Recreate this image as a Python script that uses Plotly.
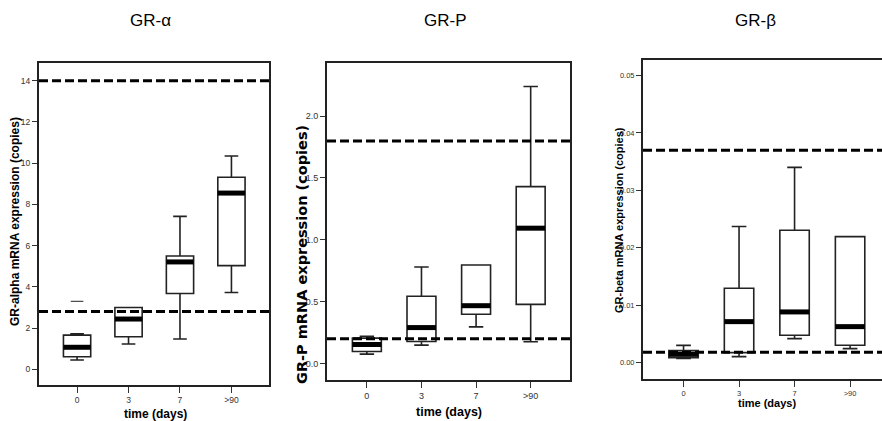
import plotly.graph_objects as go

W, H = 882, 421

days = ["0", "3", "7", ">90"]

# GR-alpha
alpha_low = [0.45, 1.23, 1.47, 3.73]
alpha_q1 = [0.61, 1.58, 3.68, 5.03]
alpha_med = [1.07, 2.44, 5.21, 8.55]
alpha_q3 = [1.66, 3.0, 5.5, 9.32]
alpha_high = [1.72, 3.0, 7.42, 10.35]
alpha_outlier = [3.3]
alpha_refs = [14.0, 2.8]

# GR-P
p_low = [0.075, 0.148, 0.296, 0.175]
p_q1 = [0.096, 0.178, 0.398, 0.478]
p_med = [0.153, 0.29, 0.467, 1.094]
p_q3 = [0.205, 0.543, 0.796, 1.43]
p_high = [0.22, 0.78, 0.796, 2.24]
p_refs = [1.8, 0.2]

# GR-beta
b_low = [0.00075, 0.00105, 0.00418, 0.00244]
b_q1 = [0.00087, 0.00174, 0.00476, 0.00302]
b_med = [0.00145, 0.00714, 0.00883, 0.00627]
b_q3 = [0.00209, 0.01295, 0.02305, 0.02195]
b_high = [0.0030, 0.0237, 0.0340, 0.02195]
b_refs = [0.037, 0.0018]

panels = [
    dict(low=alpha_low, q1=alpha_q1, med=alpha_med, q3=alpha_q3, high=alpha_high,
         refs=alpha_refs, xdom=[39, 269], ydom=[63, 385], xr=[-0.74, 3.73],
         yr=[-0.76, 14.86], dtick=2, tickfmt="d", tsize=8.5),
    dict(low=p_low, q1=p_q1, med=p_med, q3=p_q3, high=p_high,
         refs=p_refs, xdom=[327, 570], ydom=[63, 380], xr=[-0.73, 3.72],
         yr=[-0.134, 2.43], dtick=0.5, tickfmt=".1f", tsize=9),
    dict(low=b_low, q1=b_q1, med=b_med, q3=b_q3, high=b_high,
         refs=b_refs, xdom=[643, 882], ydom=[60, 379], xr=[-0.73, 3.575],
         yr=[-0.00285, 0.0527], dtick=0.01, tickfmt=".2f", tsize=7.5),
]

narrow = "Liberation Sans Narrow, Arial Narrow, Liberation Sans, Arial"
xpos = list(range(len(days)))
box_w = 0.53

fig = go.Figure()
layout = dict(
    width=W, height=H, margin=dict(l=0, r=0, t=0, b=0),
    plot_bgcolor="white", paper_bgcolor="white", showlegend=False,
    shapes=[], annotations=[],
)

for i, p in enumerate(panels):
    n = "" if i == 0 else str(i + 1)
    xa, ya = "x" + n, "y" + n
    fig.add_trace(go.Box(
        x=xpos, q1=p["q1"], median=p["med"], q3=p["q3"],
        lowerfence=p["low"], upperfence=p["high"],
        width=box_w, whiskerwidth=0.5, fillcolor="white",
        line=dict(color="#222", width=1.6), boxpoints=False,
        xaxis=xa, yaxis=ya, hoverinfo="skip",
    ))
    # thick median bars on top of the boxes
    mx, my = [], []
    for k, m in enumerate(p["med"]):
        mx += [xpos[k] - box_w / 2, xpos[k] + box_w / 2, None]
        my += [m, m, None]
    fig.add_trace(go.Scatter(x=mx, y=my, mode="lines",
                             line=dict(color="black", width=5),
                             xaxis=xa, yaxis=ya, hoverinfo="skip"))
    if i == 0:
        fig.add_trace(go.Scatter(x=[0] * len(alpha_outlier), y=alpha_outlier,
                                 mode="markers",
                                 marker=dict(symbol="line-ew", size=9,
                                             line=dict(color="#222", width=1)),
                                 xaxis=xa, yaxis=ya, hoverinfo="skip"))
    for r in p["refs"]:
        layout["shapes"].append(dict(
            type="line", xref=xa + " domain", yref=ya, x0=0, x1=1, y0=r, y1=r,
            line=dict(color="black", width=3, dash="9px,4px"), layer="above"))
    x0, x1 = p["xdom"]
    yt, yb = p["ydom"]
    layout["xaxis" + n] = dict(
        domain=[x0 / W, x1 / W], range=p["xr"], anchor=ya,
        tickvals=xpos, ticktext=days, ticks="outside", ticklen=6, tickwidth=1,
        tickcolor="#333", showline=True, linecolor="#222", linewidth=2,
        mirror=True, showgrid=False, zeroline=False, automargin=False,
        tickfont=dict(family=narrow, size=p["tsize"], color="#333"),
    )
    layout["yaxis" + n] = dict(
        domain=[1 - yb / H, 1 - yt / H], range=p["yr"], anchor=xa,
        dtick=p["dtick"], tick0=0, tickformat=p["tickfmt"],
        ticks="outside", ticklen=5, tickwidth=1, tickcolor="#333",
        showline=True, linecolor="#222", linewidth=2, mirror=(i < 2),
        showgrid=False, zeroline=False, automargin=False,
        tickfont=dict(family=narrow, size=p["tsize"], color="#333"),
    )

def ann(text, px, py, size, family, angle=0, color="black"):
    layout["annotations"].append(dict(
        text=text, x=px / W, y=1 - py / H, xref="paper", yref="paper",
        xanchor="center", yanchor="middle", showarrow=False, textangle=angle,
        font=dict(size=size, family=family, color=color)))

sans = "Liberation Sans, Arial"
ann("GR-α", 150, 21, 17, sans)
ann("GR-P", 445, 21, 17, sans)
ann("GR-β", 755, 21, 17, sans)

ann("<b>GR-alpha mRNA expression (copies)</b>", 15, 222, 12, sans, -90)
ann("<b>GR-P mRNA expression (copies)</b>", 302, 255, 14.5, "DejaVu Sans", -90)
ann("<b>GR-beta mRNA expression (copies)</b>", 619, 220, 11, narrow, -90)

ann("<b>time (days)</b>", 155, 414, 12, sans)
ann("<b>time (days)</b>", 449, 412, 12.5, sans)
ann("<b>time (days)</b>", 767, 403, 11, narrow)

fig.update_layout(**layout)
fig.write_html("out.html", config={"displayModeBar": False},
               post_script="document.body.style.margin='0';"
                           "document.body.style.overflow='hidden';")
